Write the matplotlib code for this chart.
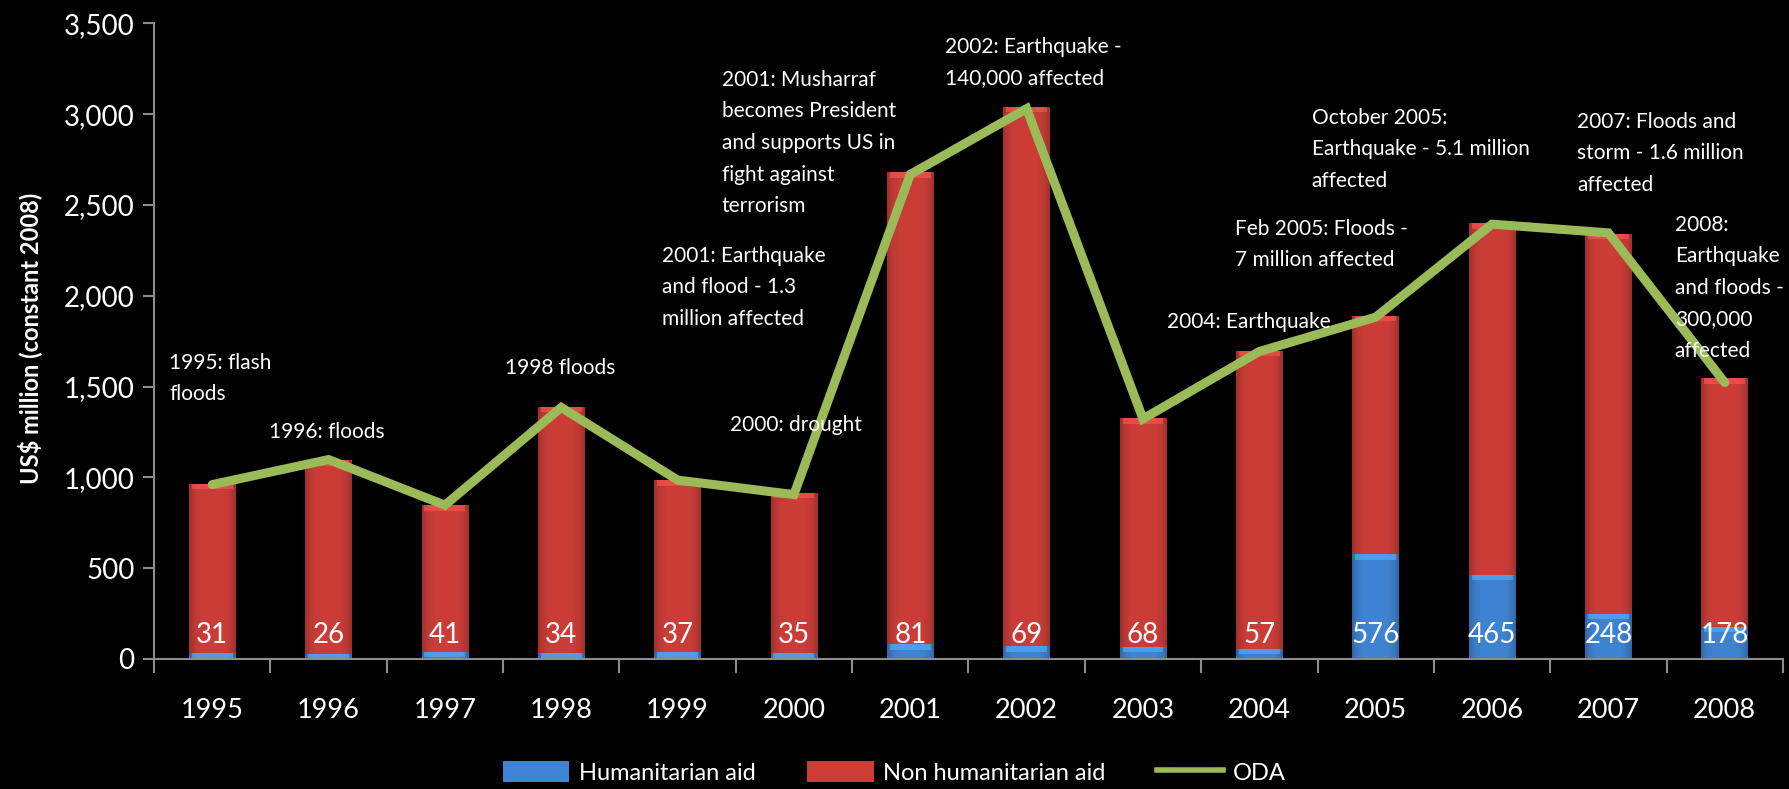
import matplotlib
matplotlib.use("Agg")
import matplotlib.pyplot as plt
import numpy as np
from matplotlib.lines import Line2D
from matplotlib.patches import Patch

# ---- data ----
years = ["1995", "1996", "1997", "1998", "1999", "2000", "2001",
         "2002", "2003", "2004", "2005", "2006", "2007", "2008"]
humanitarian = [31, 26, 41, 34, 37, 35, 81, 69, 68, 57, 576, 465, 248, 178]
total_aid = [965, 1095, 847, 1390, 985, 916, 2680, 3040, 1325, 1698,
             1889, 2399, 2341, 1546]
non_humanitarian = [t - h for t, h in zip(total_aid, humanitarian)]
oda = [960, 1098, 847, 1385, 985, 905, 2668, 3030, 1322, 1693,
       1882, 2394, 2346, 1522]

events = [
    (-0.37, 1686, "1995: flash\nfloods"),
    (0.49, 1306, "1996: floods"),
    (2.52, 1658, "1998 floods"),
    (4.45, 1345, "2000: drought"),
    (3.87, 2275, "2001: Earthquake\nand flood - 1.3\nmillion affected"),
    (4.38, 3243, "2001: Musharraf\nbecomes President\nand supports US in\nfight against\nterrorism"),
    (6.30, 3425, "2002: Earthquake -\n140,000 affected"),
    (8.21, 1911, "2004: Earthquake"),
    (8.79, 2423, "Feb 2005: Floods -\n7 million affected"),
    (9.45, 3034, "October 2005:\nEarthquake - 5.1 million\naffected"),
    (11.73, 3012, "2007: Floods and\nstorm - 1.6 million\naffected"),
    (12.57, 2445, "2008:\nEarthquake\nand floods -\n300,000\naffected"),
]

RED = "#cc3d38"
BLUE = "#3f84d3"
GREEN = "#9bbb59"
AXIS_GREY = "#8c8c8c"

plt.rcParams["font.family"] = ["Lato", "DejaVu Sans"]

fig = plt.figure(figsize=(17.89, 7.89), dpi=100, facecolor="black")
ax = fig.add_axes([0.0861, 0.1648, 0.9105, 0.8057], facecolor="black")

x = np.arange(len(years))
width = 0.40
b1 = ax.bar(x, humanitarian, width, color=BLUE, zorder=2)
b2 = ax.bar(x, non_humanitarian, width, bottom=humanitarian, color=RED, zorder=2)


def shade(bars, base):
    """Give each bar a soft rounded-glass shading."""
    rgb = np.array(matplotlib.colors.to_rgb(base))
    n = 64
    u = np.linspace(-1, 1, n)
    prof = 1.0 - 0.22 * u ** 4
    img = np.clip(prof[None, :, None] * rgb[None, None, :], 0, 1)
    for p in bars:
        x0, y0 = p.get_x(), p.get_y()
        w, h = p.get_width(), p.get_height()
        im = ax.imshow(img, extent=(x0, x0 + w, y0, y0 + h), aspect="auto",
                       zorder=2.1, interpolation="bicubic")
        im.set_clip_path(p)
        # light cap on top of each segment
        cap_h = min(h, 30)
        top = np.clip(rgb * 1.25 + 0.06, 0, 1)
        ax.fill_between([x0 + w * 0.06, x0 + w * 0.94], y0 + h - cap_h, y0 + h,
                        color=top, alpha=0.55, zorder=2.2, linewidth=0)


shade(b1, BLUE)
shade(b2, RED)

ax.plot(x, oda, color=GREEN, linewidth=6.5, solid_capstyle="round",
        solid_joinstyle="miter", zorder=3)

for xi, h in zip(x, humanitarian):
    ax.text(xi, 130, f"{h}", color="white", fontsize=20, ha="center",
            va="center", zorder=4)

for ex, ey, txt in events:
    ax.text(ex, ey, txt, color="white", fontsize=15, ha="left", va="top",
            linespacing=1.72, zorder=5)

ax.set_xlim(-0.5, len(years) - 0.5)
ax.set_ylim(0, 3500)
ax.set_yticks(np.arange(0, 3501, 500))
ax.set_yticklabels([f"{v:,}" for v in range(0, 3501, 500)])
ax.set_xticks(x)
ax.set_xticklabels(years)
ax.set_xticks(np.arange(-0.5, len(years), 1), minor=True)

for s in ["top", "right"]:
    ax.spines[s].set_visible(False)
for s in ["left", "bottom"]:
    ax.spines[s].set_color(AXIS_GREY)
    ax.spines[s].set_linewidth(1.5)

ax.tick_params(axis="y", colors=AXIS_GREY, labelcolor="white", labelsize=20,
               length=8, width=1.5, direction="out", pad=6)
ax.tick_params(axis="x", which="major", length=0, labelcolor="white",
               labelsize=19.5, pad=28)
ax.tick_params(axis="x", which="minor", colors=AXIS_GREY, length=10,
               width=1.5, direction="out")

ax.set_ylabel("US$ million (constant 2008)", color="white", fontsize=17,
              fontweight="bold")
ax.yaxis.set_label_coords(-0.069, 0.505)

handles = [Patch(facecolor=BLUE), Patch(facecolor=RED),
           Line2D([0], [0], color=GREEN, linewidth=4)]
labels = ["Humanitarian aid", "Non humanitarian aid", "ODA"]
fig.legend(handles, labels, loc="lower center", bbox_to_anchor=(0.5, -0.02),
           ncol=3, frameon=False, fontsize=17, labelcolor="white",
           handlelength=2.8, handleheight=1.0, columnspacing=2.2,
           handletextpad=0.4)

fig.savefig("out.png", dpi=100, facecolor="black")
